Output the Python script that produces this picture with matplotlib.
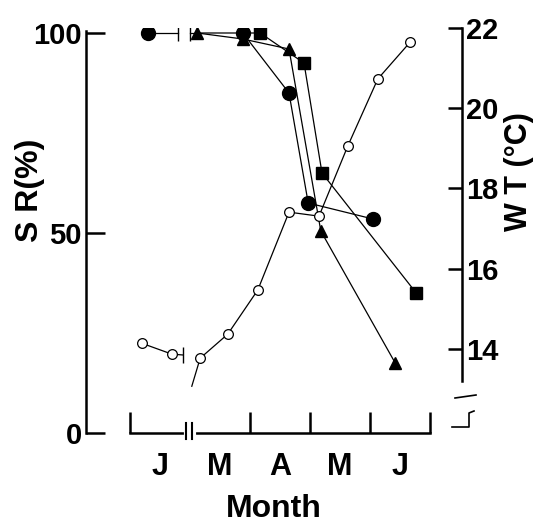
import matplotlib.pyplot as plt
import numpy as np

plt.rcParams['font.family'] = ['Liberation Sans', 'DejaVu Sans']
plt.rcParams['font.weight'] = 'bold'
plt.rcParams['axes.labelweight'] = 'bold'

# month axis: Jan 0-1, (Feb cut out), Mar 1-2, Apr 2-3, May 3-4, Jun 4-5
months = ["J", "M", "A", "M", "J"]
month_ticks = [0, 2, 3, 4, 5]

# survival rate (%), Jan part ends at a break bar
circ_jan_x = [0.3, 0.8]
circ_jan_y = [100, 100]
lead_x = [1.0, 1.12]
lead_y = [100, 100]

circ_x = [1.12, 1.88, 2.65, 2.97, 4.05]
circ_y = [100, 100, 85, 57.5, 53.5]
tri_x = [1.12, 1.88, 2.65, 3.18, 4.42]
tri_y = [100, 98.5, 96, 50.5, 17.5]
sq_x = [1.88, 2.17, 2.9, 3.2, 4.77]
sq_y = [100, 100, 92.5, 65, 35]

# water temperature (C)
wt_jan_x = [0.2, 0.7, 0.88]
wt_jan_y = [14.14, 13.87, 13.85]
wt_x = [1.03, 1.17, 1.63, 2.13, 2.65, 3.15, 3.63, 4.13, 4.67]
wt_y = [13.07, 13.77, 14.37, 15.47, 17.41, 17.31, 19.06, 20.73, 21.65]

fig = plt.figure(figsize=(5.4, 5.23), dpi=100)
ax = fig.add_axes([86/540, 90/523, 376/540, 405/523])
ax2 = ax.twinx()

lw = 0.9
ax.plot(circ_jan_x, circ_jan_y, color='k', lw=lw)
ax.plot(circ_jan_x[:1], circ_jan_y[:1], 'o', color='k', ms=10)
ax.plot(circ_jan_x[1:], circ_jan_y[1:], '|', color='k', ms=12, mew=1)
ax.plot(lead_x, lead_y, color='k', lw=lw)
ax.plot(lead_x[:1], lead_y[:1], '|', color='k', ms=12, mew=1)

ax.plot(circ_x, circ_y, '-', color='k', lw=lw)
ax.plot(circ_x[1:], circ_y[1:], 'o', color='k', ms=10)
ax.plot(tri_x, tri_y, '-^', color='k', lw=lw, ms=9)
ax.plot(sq_x, sq_y, '-', color='k', lw=lw)
ax.plot(sq_x[1:], sq_y[1:], 's', color='k', ms=9)

ax2.plot(wt_jan_x, wt_jan_y, color='k', lw=lw)
ax2.plot(wt_jan_x[:2], wt_jan_y[:2], 'o', color='k', mfc='white', ms=7, mew=0.9)
ax2.plot(wt_jan_x[2:], wt_jan_y[2:], '|', color='k', ms=11, mew=1)
ax2.plot(wt_x, wt_y, color='k', lw=lw)
ax2.plot(wt_x[1:], wt_y[1:], 'o', color='k', mfc='white', ms=7, mew=0.9)

ax.set_xlim(-0.733, 5.533)
ax.set_ylim(0, 101.25)
ax2.set_ylim(11.905, 22)

for a in (ax, ax2):
    a.spines['top'].set_visible(False)
    for s in a.spines.values():
        s.set_linewidth(1.8)
ax.spines['right'].set_visible(False)
ax2.spines['left'].set_visible(False)
ax2.spines['bottom'].set_visible(False)
ax.spines['left'].set_bounds(0, 100.5)
ax.spines['bottom'].set_bounds(0, 5)
ax2.spines['right'].set_bounds(13.2, 22)

ax.set_yticks([0, 50, 100])
ax.tick_params(axis='y', direction='in', length=14, width=1.8, pad=3, labelsize=21)
ax2.set_yticks([14, 16, 18, 20, 22])
ax2.tick_params(axis='y', direction='in', length=10, width=1.8, pad=3, labelsize=21)

ax.set_xticks(month_ticks)
ax.set_xticklabels([])
ax.set_xticks([0.5, 1.5, 2.5, 3.5, 4.5], minor=True)
ax.set_xticklabels(months, minor=True)
ax.tick_params(axis='x', which='major', direction='in', length=15, width=1.8)
ax.tick_params(axis='x', which='minor', length=0, pad=14, labelsize=22)

# break on the month axis (February left out)
tr = ax.get_xaxis_transform()
ax.plot([0.93, 1.07], [0, 0], color='white', lw=3, transform=tr, clip_on=False, zorder=5)
for bx in (0.93, 1.04):
    ax.plot([bx, bx], [-0.015, 0.025], color='k', lw=1.5, transform=tr, clip_on=False, zorder=6)

# break marks under the right axis
ftr = fig.transFigure
ax2.plot([455/540, 476/540], [1 - 398/523, 1 - 395/523], color='k', lw=1.2, transform=ftr, clip_on=False)
ax2.plot([452/540, 469/540, 469/540, 474/540], [1 - 427/523, 1 - 427/523, 1 - 413/523, 1 - 411/523],
         color='k', lw=1.2, transform=ftr, clip_on=False)

ax.set_xlabel("Month", fontsize=23, labelpad=8)
ax.set_ylabel("S R(%)", fontsize=23)
ax.yaxis.set_label_coords(-0.11, 0.6)
ax2.set_ylabel("W T (°C)", fontsize=22, rotation=90)
ax2.yaxis.set_label_coords(1.112, 0.645)

fig.savefig("out.png", dpi=100)
